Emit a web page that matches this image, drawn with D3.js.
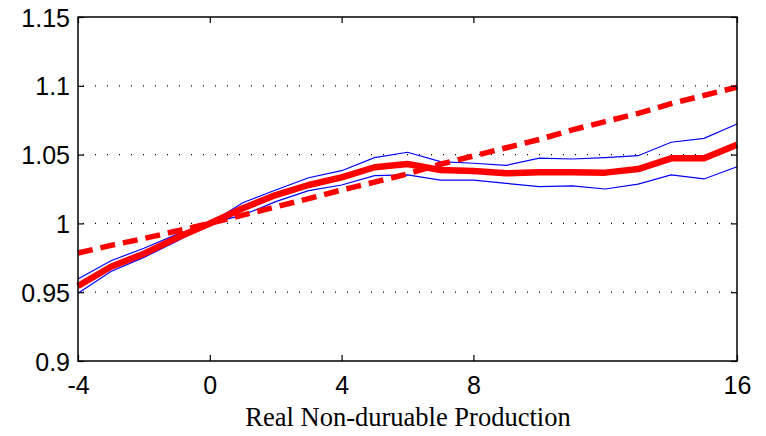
<!DOCTYPE html>
<html><head><meta charset="utf-8">
<script src="https://cdn.jsdelivr.net/npm/d3@7"></script>
<style>body{margin:0;background:#fff}svg{display:block}</style>
</head><body>
<svg id="c" width="766" height="436"></svg>
<script>
const horizons = [-4,-3,-2,-1,0,1,2,3,4,5,6,7,8,9,10,11,12,13,14,15,16];
const response = [0.9545,0.9685,0.978,0.9895,1.0,1.011,1.0206,1.0279,1.0335,1.0408,1.0432,1.0388,1.038,1.0364,1.0372,1.0371,1.0369,1.0395,1.0473,1.0473,1.0572];
const upperBand = [0.9596,0.9729,0.9819,0.992,1.0,1.015,1.0243,1.0332,1.0383,1.0478,1.0517,1.0449,1.0437,1.0422,1.0475,1.0468,1.0478,1.0492,1.059,1.0618,1.0722];
const lowerBand = [0.9492,0.965,0.9753,0.987,1.0,1.006,1.0158,1.0238,1.0279,1.0347,1.0352,1.0315,1.0315,1.0291,1.0267,1.0272,1.025,1.0286,1.0352,1.0323,1.0412];
const benchmark = [0.9785,0.984,0.989,0.9945,1.0,1.006,1.012,1.018,1.0243,1.030,1.036,1.043,1.049,1.055,1.061,1.068,1.074,1.080,1.087,1.093,1.099];
const xTicks = [-4,0,4,8,16];
const yTicks = [0.9,0.95,1,1.05,1.1,1.15];
const yGrid = [0.95,1,1.05,1.1];
const xLabel = "Real Non-duruable Production";

const L=78,R=737,T=17,B=361;
const svg=d3.select("#c");
const x=d3.scaleLinear().domain([-4,16]).range([L,R]);
const y=d3.scaleLinear().domain([0.9,1.15]).range([B,T]);

// grid
svg.append("g").selectAll("line").data(yGrid).join("line")
  .attr("x1",L).attr("x2",R).attr("y1",d=>y(d)).attr("y2",d=>y(d))
  .attr("stroke","#000").attr("stroke-width",1.2).attr("stroke-dasharray","1,11").attr("stroke-dashoffset",-5);

const line=(arr)=>d3.line().x((d,i)=>x(horizons[i])).y(d=>y(d))(arr);
svg.append("path").attr("d",line(upperBand)).attr("fill","none").attr("stroke","#0000ff").attr("stroke-width",1.2);
svg.append("path").attr("d",line(lowerBand)).attr("fill","none").attr("stroke","#0000ff").attr("stroke-width",1.2);
svg.append("path").attr("d",line(response)).attr("fill","none").attr("stroke","#ff0000").attr("stroke-width",6.5).attr("stroke-linejoin","round");
svg.append("path").attr("d",line(benchmark)).attr("fill","none").attr("stroke","#ff0000").attr("stroke-width",5.5).attr("stroke-dasharray","15,8");

// box
svg.append("rect").attr("x",L).attr("y",T).attr("width",R-L).attr("height",B-T)
  .attr("fill","none").attr("stroke","#000").attr("stroke-width",1.5);

// axes with inner ticks
const fmtY=d=>String(d);
const ax=svg.append("g").attr("transform",`translate(0,${B})`)
  .call(d3.axisBottom(x).tickValues(xTicks).tickSize(-6).tickPadding(12).tickFormat(d=>String(d)));
const axT=svg.append("g").attr("transform",`translate(0,${T})`)
  .call(d3.axisTop(x).tickValues(xTicks).tickSize(-6).tickFormat(""));
const ay=svg.append("g").attr("transform",`translate(${L},0)`)
  .call(d3.axisLeft(y).tickValues(yTicks).tickSize(-6).tickPadding(12).tickFormat(fmtY));
const ayR=svg.append("g").attr("transform",`translate(${R},0)`)
  .call(d3.axisRight(y).tickValues(yTicks).tickSize(-6).tickFormat(""));
[ax,axT,ay,ayR].forEach(g=>{
  g.select(".domain").remove();
  g.selectAll(".tick line").attr("stroke","#000").attr("stroke-width",1.2);
  g.selectAll("text").attr("fill","#000").style("font-family","Liberation Sans, Arial, sans-serif").style("font-size","25px");
});
ax.selectAll("text").attr("dy",null).attr("y",null).attr("dominant-baseline",null)
  .attr("transform",null).attr("y",33);
ay.selectAll("text").attr("dy","0.36em").attr("x",-8);

svg.append("text").attr("x",408).attr("y",426).attr("text-anchor","middle")
  .style("font-family","Liberation Serif, Times New Roman, serif").style("font-size","26.5px").attr("fill","#000")
  .text(xLabel);
</script>
</body></html>
